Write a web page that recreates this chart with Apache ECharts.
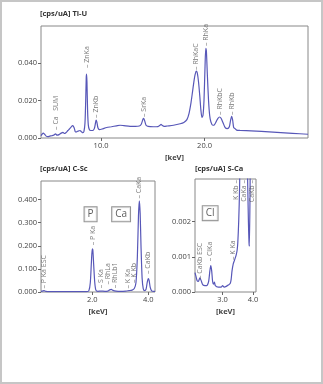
<!DOCTYPE html>
<html>
<head>
<meta charset="utf-8">
<script src="https://cdn.jsdelivr.net/npm/echarts@6/dist/echarts.min.js"></script>
<style>
html,body{margin:0;padding:0;background:#fff;}
#c{width:323px;height:384px;}
#frame{position:absolute;left:0;top:0;width:323px;height:384px;box-sizing:border-box;border:2px solid #c6c6c6;pointer-events:none;}
</style>
</head>
<body>
<div id="c"></div>
<div id="frame"></div>
<script>
// ---------- Ti-U spectrum ----------
const tiU_keV = [4.2,4.3,4.42,4.55,4.7,4.87,5.05,5.25,5.45,5.6,5.75,5.95,6.15,6.32,6.45,6.6,6.8,6.95,7.1,7.26,7.4,7.5,7.6,7.75,7.97,8.1,8.25,8.35,8.45,8.52,8.57,8.6,8.64,8.7,8.77,8.87,9.0,9.2,9.35,9.45,9.52,9.6,9.7,9.85,10.1,10.55,11.0,11.5,11.84,12.2,12.81,13.3,13.7,13.9,14.05,14.12,14.2,14.35,14.55,15.06,15.5,15.7,15.8,15.9,16.1,16.4,17.0,17.65,18.0,18.3,18.5,18.7,18.85,19.0,19.1,19.2,19.3,19.42,19.55,19.65,19.75,19.85,19.95,20.05,20.12,20.18,20.28,20.39,20.5,20.62,20.8,20.95,21.15,21.3,21.45,21.6,21.8,22.0,22.2,22.4,22.52,22.62,22.72,22.82,22.95,23.1,23.45,24.5,25.5,27.0,28.5,30.0];
const tiU_cps = [0.0012,0.0020,0.0026,0.0020,0.0010,0.0007,0.0010,0.0012,0.0016,0.0022,0.0015,0.0018,0.0026,0.0030,0.0024,0.0028,0.0040,0.0048,0.0058,0.0066,0.0055,0.0035,0.0032,0.0036,0.0040,0.0034,0.0028,0.0035,0.0080,0.0200,0.0320,0.0341,0.0300,0.0150,0.0070,0.0045,0.0040,0.0040,0.0050,0.0075,0.0095,0.0085,0.0055,0.0045,0.0048,0.0056,0.0060,0.0065,0.0068,0.0066,0.0062,0.0062,0.0064,0.0075,0.0100,0.0105,0.0095,0.0068,0.0062,0.0060,0.0061,0.0068,0.0073,0.0068,0.0062,0.0064,0.0068,0.0076,0.0083,0.0098,0.0130,0.0190,0.0250,0.0310,0.0340,0.0357,0.0347,0.0300,0.0220,0.0150,0.0110,0.0120,0.0200,0.0380,0.0478,0.0465,0.0330,0.0200,0.0120,0.0085,0.0068,0.0070,0.0090,0.0105,0.0112,0.0105,0.0080,0.0055,0.0050,0.0060,0.0095,0.0116,0.0095,0.0055,0.0050,0.0042,0.0040,0.0038,0.0035,0.0030,0.0025,0.0020];
const tiU_lineNames = ['– Ca   SUM','– ZnKa','– ZnKb','– SrKa','– RhKaC','– RhKa','– RhKbC','– RhKb'];
const tiU_lineKeV   = [5.62,8.6,9.52,14.12,19.2,20.15,21.45,22.65];
const tiU_lineLevel = [0.0043,0.0373,0.0107,0.0112,0.0363,0.0490,0.0123,0.0123];
const tiU_xTicks = [10,20];
const tiU_yTicks = [0,0.02,0.04];

// ---------- C-Sc spectrum ----------
const cSc_keV = [0.17,0.22,0.28,0.34,0.5,1.0,1.5,1.8,1.88,1.93,1.97,2.0,2.02,2.05,2.09,2.13,2.2,2.31,2.45,2.55,2.62,2.68,2.74,2.85,3.0,3.2,3.31,3.42,3.5,3.56,3.61,3.65,3.68,3.71,3.74,3.78,3.82,3.87,3.92,3.96,4.0,4.03,4.07,4.12,4.2,4.24];
const cSc_cps = [0.003,0.004,0.006,0.003,0.002,0.002,0.002,0.002,0.006,0.040,0.130,0.187,0.182,0.120,0.040,0.008,0.003,0.004,0.003,0.004,0.009,0.011,0.007,0.004,0.003,0.004,0.006,0.008,0.015,0.040,0.150,0.330,0.394,0.340,0.200,0.060,0.015,0.006,0.012,0.040,0.058,0.050,0.020,0.005,0.003,0.003];
const cSc_lineNames = ['– P Ka ESC','– P Ka','– S Ka','– RhLa','– RhLb1','– K Ka','– K Kb','– CaKa','– CaKb'];
const cSc_lineKeV   = [0.28,2.01,2.32,2.55,2.8,3.27,3.5,3.68,4.0];
const cSc_lineLevel = [0.015,0.202,0.016,0.032,0.016,0.015,0.039,0.404,0.078];
const cSc_boxNames = ['P','Ca'];
const cSc_boxKeV   = [1.94,3.03];
const cSc_boxLevel = [0.336,0.336];
const cSc_xTicks = [2,4];
const cSc_yTicks = [0,0.1,0.2,0.3,0.4];

// ---------- S-Ca spectrum ----------
const sCa_keV = [2.09,2.12,2.16,2.2,2.25,2.29,2.35,2.42,2.49,2.54,2.58,2.61,2.64,2.67,2.7,2.73,2.76,2.86,2.95,3.0,3.05,3.12,3.19,3.25,3.28,3.31,3.35,3.39,3.45,3.48,3.5,3.53,3.56,3.58,3.62,3.69,3.76,3.81,3.85,3.87,3.88,3.9,3.93,4.0,4.1];
const sCa_cps = [0.00055,0.00045,0.00032,0.00030,0.00040,0.00033,0.00020,0.00018,0.00019,0.00030,0.00060,0.00075,0.00060,0.00030,0.00022,0.00028,0.00018,0.00014,0.00014,0.00018,0.00014,0.00016,0.00020,0.00024,0.00035,0.00060,0.00080,0.00090,0.00106,0.00120,0.00140,0.00200,0.00300,0.00500,0.0200,0.0400,0.0100,0.0040,0.0020,0.0014,0.0013,0.0025,0.0060,0.0500,0.0200];
const sCa_lineNames = ['– CaKb ESC','– ClKa','– K Ka','K Kb –','CaKa –','CaKb –'];
const sCa_lineKeV   = [2.24,2.58,3.34,3.44,3.69,3.97];
const sCa_lineLevel = [0.00037,0.00087,0.00091,0.00318,0.00318,0.00318];
const sCa_lineDown  = [false,false,false,true,true,true];
const sCa_boxNames = ['Cl'];
const sCa_boxKeV   = [2.59];
const sCa_boxLevel = [0.00224];
const sCa_xTicks = [3,4];
const sCa_yTicks = [0,0.001,0.002];

const FONT = 'Open Sans';
const TXT = '#444';
const LINE = '#5757b8';

function pairs(xs, ys){ return xs.map((x,i)=>[x, ys[i]]); }

function xAxis(gi, min, max, ticks){
  return {
    type:'value', gridIndex:gi, min:min, max:max,
    name:'[keV]', nameLocation:'middle', nameGap:16,
    nameTextStyle:{fontFamily:FONT, fontSize:7.5, color:TXT, fontWeight:'bold'},
    axisLine:{show:false},
    axisTick:{show:true, length:3, lineStyle:{color:'#666'}, customValues:ticks},
    axisLabel:{fontFamily:FONT, fontSize:7.5, color:TXT, margin:4, customValues:ticks, formatter:v=>v.toFixed(1)},
    splitLine:{show:false}
  };
}
function yAxis(gi, min, max, ticks){
  return {
    type:'value', gridIndex:gi, min:min, max:max,
    axisLine:{show:false},
    axisTick:{show:true, length:3, lineStyle:{color:'#666'}, customValues:ticks},
    axisLabel:{fontFamily:FONT, fontSize:7.5, color:TXT, margin:4, customValues:ticks, formatter:v=>v.toFixed(3)},
    splitLine:{show:false}
  };
}
function spectrum(gi, xs, ys){
  return {type:'line', xAxisIndex:gi, yAxisIndex:gi, data:pairs(xs,ys), showSymbol:false, smooth:0.25,
    lineStyle:{color:LINE, width:1.2}, clip:true, silent:true, z:3};
}
function lineLabels(gi, names, xs, levels, down){
  return {type:'scatter', xAxisIndex:gi, yAxisIndex:gi, symbolSize:0, silent:true, z:4, clip:false,
    data: names.map((n,i)=>{
      const d = down && down[i];
      return {value:[xs[i], levels[i]], name:n,
        label:{show:true, formatter:n, rotate:90, position:'top', distance:0,
          align: d ? 'right' : 'left', verticalAlign:'middle',
          fontFamily:FONT, fontSize:7, color:'#555'}};
    })
  };
}
function boxLabels(gi, names, xs, levels){
  return {type:'scatter', xAxisIndex:gi, yAxisIndex:gi, symbolSize:0, silent:true, z:5, clip:false,
    data: names.map((n,i)=>({value:[xs[i], levels[i]],
      label:{show:true, formatter:n, position:'inside', fontFamily:FONT, fontSize:10, color:'#333',
        borderColor:'#777', borderWidth:1, padding:[1,3,0,3], backgroundColor:'#fff', lineHeight:13}}))
  };
}

const titleStyle = {fontFamily:FONT, fontSize:7.5, fontWeight:'bold', color:'#333'};
const option = {
  animation:false,
  backgroundColor:'#fff',
  title:[
    {text:'[cps/uA] Ti-U', left:40, top:10, textStyle:titleStyle, padding:0},
    {text:'[cps/uA] C-Sc', left:40, top:165, textStyle:titleStyle, padding:0},
    {text:'[cps/uA] S-Ca', left:195, top:165, textStyle:titleStyle, padding:0}
  ],
  grid:[
    {left:41, top:26, width:267, height:112, show:true, borderColor:'#888', borderWidth:1, backgroundColor:'transparent'},
    {left:41, top:181, width:114, height:111, show:true, borderColor:'#888', borderWidth:1, backgroundColor:'transparent'},
    {left:195, top:179, width:61, height:113, show:true, borderColor:'#888', borderWidth:1, backgroundColor:'transparent'}
  ],
  xAxis:[ xAxis(0,4.2,30,tiU_xTicks), xAxis(1,0.17,4.24,cSc_xTicks), xAxis(2,2.09,4.1,sCa_xTicks) ],
  yAxis:[ yAxis(0,0,0.0597,tiU_yTicks), yAxis(1,0,0.48,cSc_yTicks), yAxis(2,0,0.00321,sCa_yTicks) ],
  series:[
    spectrum(0, tiU_keV, tiU_cps),
    lineLabels(0, tiU_lineNames, tiU_lineKeV, tiU_lineLevel),
    spectrum(1, cSc_keV, cSc_cps),
    lineLabels(1, cSc_lineNames, cSc_lineKeV, cSc_lineLevel),
    boxLabels(1, cSc_boxNames, cSc_boxKeV, cSc_boxLevel),
    spectrum(2, sCa_keV, sCa_cps),
    lineLabels(2, sCa_lineNames, sCa_lineKeV, sCa_lineLevel, sCa_lineDown),
    boxLabels(2, sCa_boxNames, sCa_boxKeV, sCa_boxLevel)
  ]
};
const chart = echarts.init(document.getElementById('c'), null, {renderer:'canvas'});
chart.setOption(option);
</script>
</body>
</html>
